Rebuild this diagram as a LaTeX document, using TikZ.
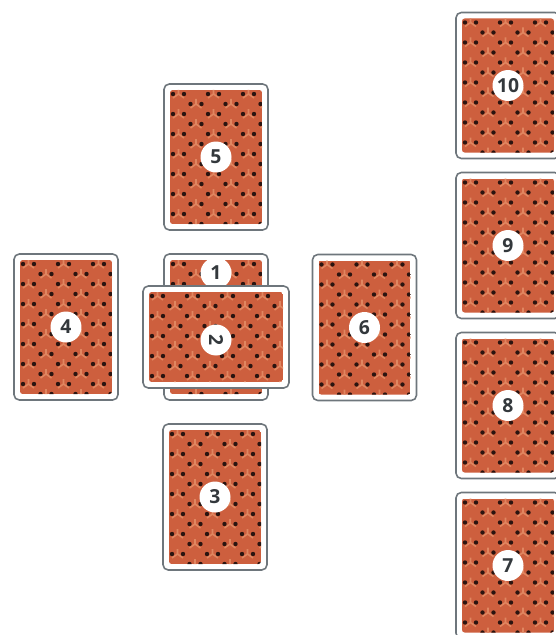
\documentclass[tikz,border=0pt]{standalone}
\usepackage{fontspec}
\newfontfamily\numfont{Open Sans}
\definecolor{edgegray}{HTML}{6E767C}
\definecolor{cardred}{HTML}{CD5F3E}
\definecolor{cardlight}{HTML}{E08660}
\definecolor{dotbrown}{HTML}{2A1410}
\definecolor{numgray}{HTML}{33383C}

% one tarot card: centre x, centre y, half width, half height
\newcommand{\tarotcard}[4]{%
    \draw[cardedge] (#1-#3,#2-#4) rectangle (#1+#3,#2+#4);
    \begin{scope}
        \clip[rounded corners=1.5pt] (#1-#3+6,#2-#4+6) rectangle (#1+#3-6,#2+#4-6);
        \fill[cardred] (#1-#3+6,#2-#4+6) rectangle (#1+#3-6,#2+#4-6);
        \foreach \r in {0,...,15}{
            \foreach \k in {-1,...,4}{
                \draw[cardlight, line width=0.9pt]
                    ({#1-#3+9+\k*35+mod(\r,2)*17.5+5.5},{#2-#4+10+\r*10-5})
                    -- ++(0,5) -- ++(-5.5,4) ++(5.5,-4) -- ++(5.5,4);
                \foreach \d in {0,11}{
                    \fill[dotbrown]
                        ({#1-#3+9+\k*35+mod(\r,2)*17.5+\d},{#2-#4+10+\r*10}) circle (1.25pt);
                }
            }
        }
    \end{scope}
}

\begin{document}
\begin{tikzpicture}[
    x=0.02cm, y=-0.02cm,
    cardedge/.style={draw=edgegray, fill=white, line width=0.9pt, rounded corners=3pt},
    numdisc/.style={
        circle,
        fill=white,
        inner sep=0pt,
        minimum size=0.62cm,
        text=numgray,
        font=\numfont\bfseries\fontsize{11}{11}\selectfont
    }
]
    \useasboundingbox (0,0) rectangle (555,635);

    % the cards of the cross and the staff
    \foreach \num/\cx/\cy in {5/216/157, 4/66/327, 6/364.5/327.5, 3/215/497,
        10/508/85.5, 9/508/245.5, 8/508/405.5, 7/508/565.5}{
        \tarotcard{\cx}{\cy}{52}{73}
        \node[numdisc] (n\num) at (\cx,\cy) {\num};
    }

    % card 1, covered by card 2
    \tarotcard{216}{327}{52}{73}
    \node[numdisc] (n1) at (216,273) {1};

    % card 2, laid across
    \tarotcard{216}{337}{73}{51}
    \node[numdisc, rotate=-90] (n2) at (216,340) {2};

\end{tikzpicture}
\end{document}
